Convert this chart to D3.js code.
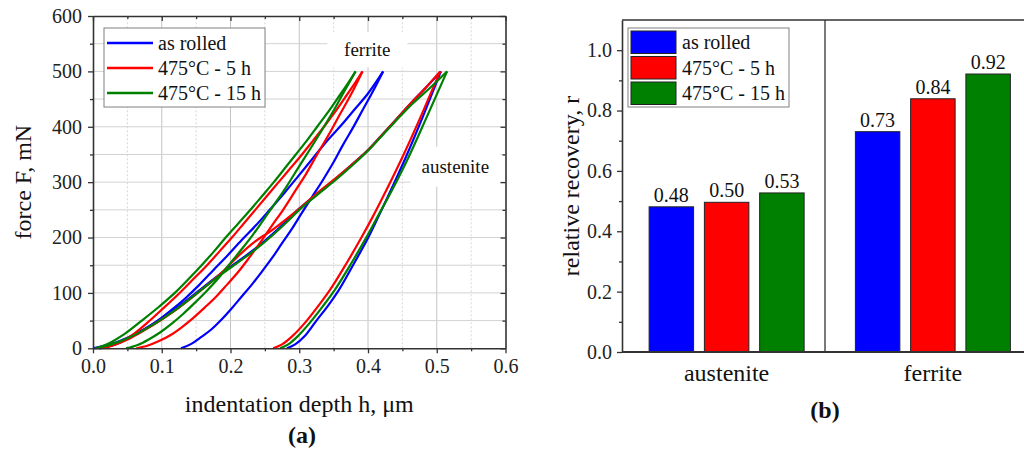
<!DOCTYPE html>
<html>
<head>
<meta charset="utf-8">
<script src="https://cdn.jsdelivr.net/npm/d3@7"></script>
<style>
  html, body { margin: 0; padding: 0; background: #fff; }
  svg { display: block; }
</style>
</head>
<body>
<svg id="chart" width="1024" height="453"></svg>
<script>
// shared series names (legend order)
const seriesNames = ["as rolled", "475°C - 5 h", "475°C - 15 h"];

// --- panel (a): load / unload curves, [depth h (µm), force F (mN)] ---
const ferriteLoadRolled = [[0.010,0],[0.030,6],[0.051,18],[0.072,32],[0.092,48],[0.113,68],[0.134,90],[0.155,115],[0.175,141],[0.196,168],[0.216,195],[0.237,222],[0.257,250],[0.278,280],[0.298,310],[0.319,342],[0.340,374],[0.362,404],[0.381,432],[0.400,460],[0.422,500]];
const ferriteUnloadRolled = [[0.128,0],[0.143,8],[0.157,20],[0.172,34],[0.187,52],[0.201,71],[0.216,93],[0.231,115],[0.246,139],[0.261,164],[0.275,190],[0.290,217],[0.304,245],[0.319,274],[0.334,303],[0.349,334],[0.363,366],[0.378,398],[0.393,432],[0.408,466],[0.422,500]];
const ferriteLoad5h = [[0.015,0],[0.035,8],[0.055,22],[0.078,45],[0.102,72],[0.126,100],[0.146,125],[0.166,150],[0.184,175],[0.202,200],[0.219,225],[0.236,250],[0.253,275],[0.270,300],[0.287,325],[0.304,350],[0.320,375],[0.336,400],[0.351,425],[0.365,450],[0.379,475],[0.392,500]];
const ferriteUnload5h = [[0.063,0],[0.080,5],[0.096,13],[0.113,24],[0.129,38],[0.146,55],[0.162,73],[0.179,93],[0.195,115],[0.212,139],[0.228,165],[0.244,192],[0.260,221],[0.277,251],[0.293,282],[0.310,315],[0.326,350],[0.343,386],[0.359,422],[0.376,460],[0.392,500]];
const ferriteLoad15h = [[0.005,0],[0.025,10],[0.045,25],[0.071,50],[0.096,75],[0.119,100],[0.139,125],[0.158,150],[0.176,175],[0.193,200],[0.211,225],[0.229,250],[0.246,275],[0.263,300],[0.279,325],[0.295,350],[0.311,375],[0.326,400],[0.341,425],[0.355,450],[0.369,475],[0.382,500]];
const ferriteUnload15h = [[0.048,0],[0.065,6],[0.081,16],[0.098,29],[0.115,45],[0.131,62],[0.148,82],[0.165,103],[0.182,126],[0.198,151],[0.215,177],[0.232,204],[0.248,232],[0.265,262],[0.282,293],[0.298,325],[0.315,358],[0.332,392],[0.349,427],[0.365,463],[0.382,500]];

const austeniteLoadRolled = [[0.000,0],[0.025,7],[0.050,19],[0.075,35],[0.100,54],[0.120,71],[0.140,90],[0.162,112],[0.185,134],[0.210,156],[0.234,178],[0.260,205],[0.280,228],[0.298,250],[0.325,278],[0.350,303],[0.375,330],[0.400,358],[0.418,382],[0.440,412],[0.465,446],[0.485,472],[0.506,500]];
const austeniteUnloadRolled = [[0.282,0],[0.294,7],[0.308,22],[0.325,50],[0.342,77],[0.358,106],[0.380,154],[0.400,199],[0.416,240],[0.429,274],[0.455,345],[0.481,422],[0.506,500]];
const austeniteLoad5h = [[0.008,0],[0.030,6],[0.052,17],[0.075,33],[0.100,52],[0.120,69],[0.140,88],[0.170,118],[0.190,140],[0.210,165],[0.236,193],[0.260,213],[0.283,235],[0.298,250],[0.325,279],[0.350,304],[0.375,330],[0.400,358],[0.418,382],[0.440,412],[0.465,446],[0.485,472],[0.505,500]];
const austeniteUnload5h = [[0.262,0],[0.275,7],[0.290,22],[0.311,50],[0.328,77],[0.345,106],[0.369,154],[0.390,199],[0.408,240],[0.422,274],[0.450,345],[0.478,422],[0.505,500]];
const austeniteLoad15h = [[0.003,0],[0.027,7],[0.052,19],[0.077,35],[0.102,54],[0.122,71],[0.142,90],[0.164,112],[0.187,134],[0.212,156],[0.236,178],[0.262,205],[0.282,228],[0.300,250],[0.327,278],[0.352,303],[0.377,330],[0.401,358],[0.419,382],[0.440,410],[0.465,442],[0.490,470],[0.515,500]];
const austeniteUnload15h = [[0.272,0],[0.284,7],[0.298,22],[0.318,50],[0.335,77],[0.352,106],[0.376,154],[0.397,199],[0.415,240],[0.430,274],[0.459,345],[0.487,422],[0.515,500]];

// --- panel (b): relative recovery r ---
const phases = ["austenite", "ferrite"];
const recoveryRolled = [0.481, 0.730];
const recovery5h = [0.496, 0.839];
const recovery15h = [0.527, 0.921];

const FONT = '"Liberation Serif", "Times New Roman", serif';
const AXIS = "#333";
const colors = ["#0000ff", "#ff0000", "#008000"];

const svg = d3.select("#chart").style("font-family", FONT);
const fmt1 = d3.format(".1f");
const fmt2 = d3.format(".2f");

// style helper for d3 axes
const styleAxis = (g, withDomain) => {
  g.attr("font-family", FONT).attr("font-size", 20);
  g.selectAll("text").attr("fill", "#222");
  g.selectAll(".tick line").attr("stroke", AXIS).attr("stroke-width", 1.3);
  if (withDomain) g.select(".domain").attr("stroke", AXIS).attr("stroke-width", 1.6);
  else g.select(".domain").remove();
};

// ===================== panel (a) =====================
const xA = d3.scaleLinear().domain([0, 0.6]).range([93, 505.5]);
const yA = d3.scaleLinear().domain([0, 600]).range([348.3, 16]);
const gA = svg.append("g");

// --- 1. grid ---
gA.selectAll(".vgrid")
  .data(d3.range(1, 12).map(i => i * 0.05))
  .enter().append("line")
  .attr("x1", d => xA(d)).attr("x2", d => xA(d))
  .attr("y1", yA(0)).attr("y2", yA(600))
  .attr("stroke", (d, i) => i % 2 ? "#c4c4c4" : "#d6d6d6")
  .attr("stroke-width", 1)
  .attr("stroke-dasharray", (d, i) => i % 2 ? null : "2,2");

gA.selectAll(".hgrid")
  .data(d3.range(1, 12).map(i => i * 50))
  .enter().append("line")
  .attr("x1", xA(0)).attr("x2", xA(0.6))
  .attr("y1", d => yA(d)).attr("y2", d => yA(d))
  .attr("stroke", "#d2d2d2").attr("stroke-width", 1);

// phase annotations sit on a white patch over the grid
const notes = [
  { text: "ferrite", h: 0.399, f: 539, w: 80, hgt: 35 },
  { text: "austenite", h: 0.527, f: 328, w: 90, hgt: 40 }
];
notes.forEach(n => {
  const left = xA(n.h) - n.w / 2;
  gA.append("rect")
    .attr("x", left).attr("y", yA(n.f) - n.hgt / 2)
    .attr("width", Math.min(n.w, xA(0.6) - 1 - left)).attr("height", n.hgt)
    .attr("fill", "#fff");
  gA.append("text")
    .attr("x", xA(n.h)).attr("y", yA(n.f) + 6)
    .attr("text-anchor", "middle").attr("font-size", 19).attr("fill", "#111")
    .text(n.text);
});

// --- 2. curves ---
const line = d3.line().x(d => xA(d[0])).y(d => yA(d[1])).curve(d3.curveMonotoneX);
const curveSets = [
  [ferriteLoadRolled, ferriteUnloadRolled, austeniteLoadRolled, austeniteUnloadRolled],
  [ferriteLoad5h, ferriteUnload5h, austeniteLoad5h, austeniteUnload5h],
  [ferriteLoad15h, ferriteUnload15h, austeniteLoad15h, austeniteUnload15h]
];
curveSets.forEach((set, si) => {
  set.forEach(pts => {
    gA.append("path").datum(pts)
      .attr("d", line)
      .attr("fill", "none")
      .attr("stroke", colors[si])
      .attr("stroke-width", 2.2)
      .attr("stroke-linejoin", "round");
  });
});

// --- 3. axes (frame with ticks on all sides) ---
const xMajor = d3.range(0, 7).map(i => i / 10);
const xMinor = d3.range(0, 6).map(i => i / 10 + 0.05);
const yMajor = d3.range(0, 7).map(i => i * 100);
const yMinor = d3.range(0, 6).map(i => i * 100 + 50);

gA.append("g").attr("transform", `translate(0,${yA(0)})`)
  .call(d3.axisBottom(xA).tickValues(xMinor).tickFormat("").tickSize(3))
  .call(g => styleAxis(g, false));
gA.append("g").attr("transform", `translate(0,${yA(0)})`)
  .call(d3.axisBottom(xA).tickValues(xMajor).tickFormat(fmt1).tickSize(5).tickSizeOuter(0).tickPadding(6))
  .call(g => styleAxis(g, true));

gA.append("g").attr("transform", `translate(0,${yA(600)})`)
  .call(d3.axisTop(xA).tickValues(xMinor).tickFormat("").tickSize(-3))
  .call(g => styleAxis(g, false));
gA.append("g").attr("transform", `translate(0,${yA(600)})`)
  .call(d3.axisTop(xA).tickValues(xMajor).tickFormat("").tickSize(-5).tickSizeOuter(0))
  .call(g => styleAxis(g, true));

gA.append("g").attr("transform", `translate(${xA(0)},0)`)
  .call(d3.axisLeft(yA).tickValues(yMinor).tickFormat("").tickSize(3))
  .call(g => styleAxis(g, false));
gA.append("g").attr("transform", `translate(${xA(0)},0)`)
  .call(d3.axisLeft(yA).tickValues(yMajor).tickFormat(d3.format("d")).tickSize(5).tickSizeOuter(0).tickPadding(6))
  .call(g => styleAxis(g, true));

gA.append("g").attr("transform", `translate(${xA(0.6)},0)`)
  .call(d3.axisRight(yA).tickValues(yMinor).tickFormat("").tickSize(-3))
  .call(g => styleAxis(g, false));
gA.append("g").attr("transform", `translate(${xA(0.6)},0)`)
  .call(d3.axisRight(yA).tickValues(yMajor).tickFormat("").tickSize(-5).tickSizeOuter(0))
  .call(g => styleAxis(g, true));

// --- 4. titles ---
gA.append("text")
  .attr("x", (xA(0) + xA(0.6)) / 2).attr("y", 412)
  .attr("text-anchor", "middle").attr("font-size", 24).attr("fill", "#111")
  .text("indentation depth h, \u03bcm");
gA.append("text")
  .attr("transform", `translate(31,${(yA(0) + yA(600)) / 2}) rotate(-90)`)
  .attr("text-anchor", "middle").attr("font-size", 24).attr("fill", "#111")
  .text("force F, mN");
gA.append("text")
  .attr("x", 302).attr("y", 443)
  .attr("text-anchor", "middle").attr("font-size", 24).attr("font-weight", "bold").attr("fill", "#111")
  .text("(a)");

// --- 5. legend ---
const legA = gA.append("g").attr("transform", "translate(104,28)");
legA.append("rect").attr("width", 161).attr("height", 79)
  .attr("fill", "#fff").attr("stroke", "#808080").attr("stroke-width", 1);
seriesNames.forEach((name, i) => {
  const y = 15 + i * 25;
  legA.append("line").attr("x1", 3).attr("x2", 49).attr("y1", y).attr("y2", y)
    .attr("stroke", colors[i]).attr("stroke-width", 2.5);
  legA.append("text").attr("x", 54).attr("y", y + 7)
    .attr("font-size", 20).attr("fill", "#111").text(name);
});

// ===================== panel (b) =====================
const xB = d3.scaleBand().domain(phases).range([623.5, 1036]);
const xSub = d3.scaleBand().domain(seriesNames).range([-77.5, 77.5]).paddingInner(0.195);
const yB = d3.scaleLinear().domain([0, 1.1]).range([352, 20]);
const gB = svg.append("g");
const dividerX = 825;

const recoveries = [recoveryRolled, recovery5h, recovery15h];
const barRows = [];
phases.forEach((p, pi) => {
  seriesNames.forEach((s, si) => barRows.push({ phase: p, series: s, si, value: recoveries[si][pi] }));
});
const barX = d => xB(d.phase) + xB.bandwidth() / 2 + xSub(d.series);

// frame lines
gB.append("line").attr("x1", 622).attr("x2", 1024).attr("y1", yB(1.1)).attr("y2", yB(1.1))
  .attr("stroke", AXIS).attr("stroke-width", 1.6);
gB.append("line").attr("x1", dividerX).attr("x2", dividerX).attr("y1", yB(1.1)).attr("y2", yB(0))
  .attr("stroke", AXIS).attr("stroke-width", 1.3);

// bars
gB.selectAll(".bar").data(barRows).enter().append("rect")
  .attr("x", barX).attr("width", xSub.bandwidth())
  .attr("y", d => yB(d.value)).attr("height", d => yB(0) - yB(d.value))
  .attr("fill", d => colors[d.si]).attr("stroke", "#222").attr("stroke-width", 1);

gB.selectAll(".val").data(barRows).enter().append("text")
  .attr("x", d => barX(d) + xSub.bandwidth() / 2).attr("y", d => yB(d.value) - 5)
  .attr("text-anchor", "middle").attr("font-size", 20).attr("fill", "#111")
  .text(d => fmt2(d.value));

// axes
gB.append("g").attr("transform", "translate(622,0)")
  .call(d3.axisLeft(yB).tickValues([0.1, 0.3, 0.5, 0.7, 0.9]).tickFormat("").tickSize(3))
  .call(g => styleAxis(g, false));
gB.append("g").attr("transform", "translate(622,0)")
  .call(d3.axisLeft(yB).tickValues([0, 0.2, 0.4, 0.6, 0.8, 1.0]).tickFormat(fmt1).tickSize(5).tickSizeOuter(0).tickPadding(5))
  .call(g => styleAxis(g, true));
gB.append("line").attr("x1", 622).attr("x2", 1024).attr("y1", yB(0)).attr("y2", yB(0))
  .attr("stroke", AXIS).attr("stroke-width", 1.8);

gB.selectAll(".cat").data(phases).enter().append("text")
  .attr("x", d => xB(d) + xB.bandwidth() / 2).attr("y", 381)
  .attr("text-anchor", "middle").attr("font-size", 24).attr("fill", "#111")
  .text(d => d);

gB.append("text")
  .attr("transform", `translate(579,${(yB(0) + yB(1.1)) / 2}) rotate(-90)`)
  .attr("text-anchor", "middle").attr("font-size", 24).attr("fill", "#111")
  .text("relative recovery, r");
gB.append("text")
  .attr("x", dividerX).attr("y", 418)
  .attr("text-anchor", "middle").attr("font-size", 24).attr("font-weight", "bold").attr("fill", "#111")
  .text("(b)");

// legend
const legB = gB.append("g").attr("transform", "translate(628,28)");
legB.append("rect").attr("width", 161).attr("height", 79)
  .attr("fill", "#fff").attr("stroke", "#808080").attr("stroke-width", 1);
seriesNames.forEach((name, i) => {
  const y = 3 + i * 25.5;
  legB.append("rect").attr("x", 3).attr("y", y).attr("width", 45).attr("height", 22.5)
    .attr("fill", colors[i]).attr("stroke", "#222").attr("stroke-width", 1);
  legB.append("text").attr("x", 54).attr("y", y + 18)
    .attr("font-size", 20).attr("fill", "#111").text(name);
});
</script>
</body>
</html>
